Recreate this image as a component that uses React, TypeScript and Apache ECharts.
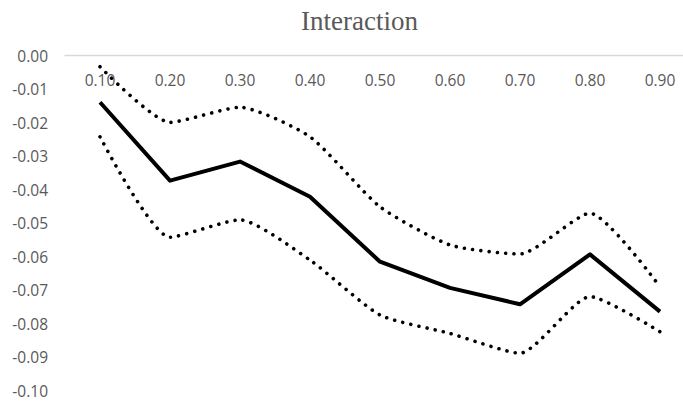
import React, { useEffect, useRef } from "react";
import * as echarts from "echarts";

const categories = ["0.10", "0.20", "0.30", "0.40", "0.50", "0.60", "0.70", "0.80", "0.90"];
const estimate = [-0.0139, -0.0373, -0.0316, -0.0421, -0.0615, -0.0693, -0.0742, -0.0593, -0.0764];
const upperBound = [-0.0033, -0.0199, -0.0154, -0.0242, -0.0451, -0.0565, -0.0592, -0.047, -0.069];
const lowerBound = [-0.0242, -0.0542, -0.049, -0.061, -0.0774, -0.0829, -0.0888, -0.0719, -0.0824];
const titleText = "Interaction";

export default function App() {
  const ref = useRef<HTMLDivElement>(null);
  useEffect(() => {
    if (!ref.current) return;
    const chart = echarts.init(ref.current, undefined, { renderer: "svg" });
    const labelFont = {
      color: "#595959",
      fontFamily: "Open Sans",
      fontSize: 15.5,
    };
    const dotted = {
      color: "#000",
      width: 3.6,
      type: [0.01, 8.3] as any,
      cap: "round" as const,
    };
    chart.setOption({
      animation: false,
      backgroundColor: "#fff",
      title: {
        text: titleText,
        left: 296,
        top: 2,
        textStyle: {
          color: "#595959",
          fontFamily: "Liberation Serif",
          fontSize: 27,
          fontWeight: "normal",
        },
      },
      grid: {
        left: 65,
        top: 55.7,
        width: 630,
        height: 335,
        containLabel: false,
        outerBoundsMode: "none",
      },
      xAxis: {
        type: "category",
        data: categories,
        position: "top",
        boundaryGap: true,
        axisLine: { onZero: false, lineStyle: { color: "#d9d9d9", width: 1.3 } },
        axisTick: { show: false },
        axisLabel: { ...labelFont, inside: true, margin: 16, interval: 0 },
        splitLine: { show: false },
      },
      yAxis: {
        type: "value",
        min: -0.1,
        max: 0,
        interval: 0.01,
        axisLine: { show: false },
        axisTick: { show: false },
        splitLine: { show: false },
        axisLabel: {
          ...labelFont,
          margin: 17,
          formatter: (v: number) => (Math.abs(v) < 1e-9 ? "0.00" : v.toFixed(2)),
        },
      },
      series: [
        {
          type: "line",
          data: upperBound,
          symbol: "none",
          smooth: 0.2,
          lineStyle: dotted,
        },
        {
          type: "line",
          data: lowerBound,
          symbol: "none",
          smooth: 0.2,
          lineStyle: dotted,
        },
        {
          type: "line",
          data: estimate,
          symbol: "none",
          lineStyle: { color: "#000", width: 4, join: "round" },
        },
      ],
    });
    return () => chart.dispose();
  }, []);
  return (
    <div
      ref={ref}
      style={{ position: "fixed", left: 0, top: 0, width: 683, height: 402 }}
    />
  );
}
